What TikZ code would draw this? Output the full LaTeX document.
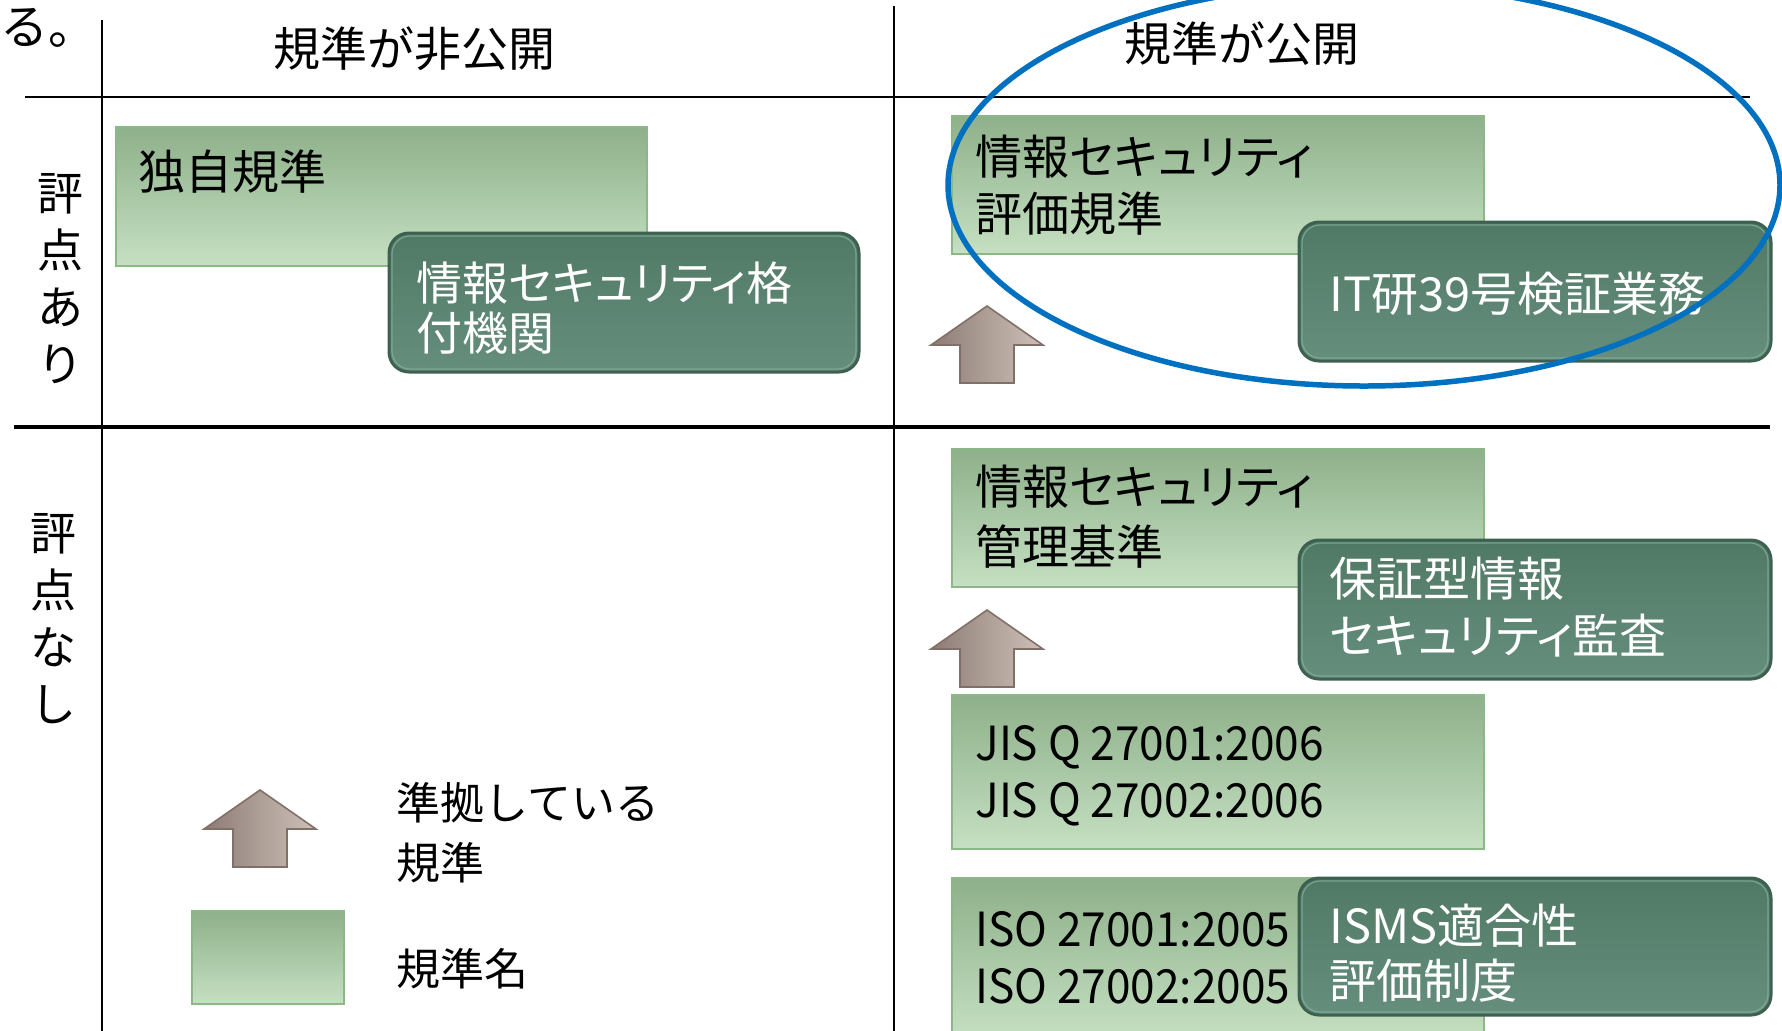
\documentclass[tikz,border=0pt]{standalone}
\usepackage{fontspec}
\setmainfont{Noto Sans CJK JP}
\newfontfamily\jpbox[RawFeature=+palt]{Noto Sans CJK JP}
\newfontfamily\jplat[FakeStretch=0.94]{Noto Sans CJK JP}
\usetikzlibrary{fit}
\definecolor{lgTop}{RGB}{142,176,138}
\definecolor{lgBot}{RGB}{197,224,194}
\definecolor{lgLine}{RGB}{140,184,136}
\definecolor{dgTop}{RGB}{80,121,101}
\definecolor{dgBot}{RGB}{102,142,125}
\definecolor{dgLine}{RGB}{62,96,80}
\definecolor{dgHi}{RGB}{128,176,152}
\definecolor{arL}{RGB}{140,124,117}
\definecolor{arR}{RGB}{206,192,184}
\definecolor{arD}{RGB}{128,112,104}
\definecolor{ovalBlue}{RGB}{0,112,192}
\tikzset{
  lbox/.style={rectangle, inner sep=0pt, top color=lgTop, bottom color=lgBot, draw=lgLine, line width=0.6pt},
  dbox/.style={rectangle, inner sep=0pt, rounded corners=10pt, top color=dgTop, bottom color=dgBot, draw=dgLine, line width=1.5pt},
  dhi/.style={rectangle, inner sep=0pt, rounded corners=9pt, draw=dgHi, line width=0.6pt, opacity=0.8},
  btext/.style={anchor=west, inner sep=0pt, align=left, font=\jpbox\fontsize{23.5pt}{28.5pt}\selectfont, text=black},
  wtext/.style={btext, text=white},
  hdr/.style={inner sep=0pt, font=\fontsize{23.5pt}{28pt}\selectfont},
  side/.style={inner sep=0pt, align=center, font=\fontsize{23pt}{28.5pt}\selectfont},
  grid/.style={line width=1pt, black},
  uparr/.pic={\shade[left color=arL, right color=arR, draw=arD, line width=0.8pt]
     (-56,39) -- (0,0) -- (56,39) -- (27,39) -- (27,77) -- (-27,77) -- (-27,39) -- cycle;}
}
\begin{document}
\begin{tikzpicture}[x=0.5pt,y=-0.5pt]
\useasboundingbox (0,0) rectangle (1782,1030);
% grid lines
\draw[grid] (102,20) -- (102,1035);
\draw[grid] (894,6) -- (894,1035);
\draw[grid, line width=1.25pt] (25,97) -- (1750,97);
\draw[grid, line width=1.75pt] (14,427) -- (1770,427);
% headers
\node[anchor=base west, inner sep=0pt, font=\fontsize{24pt}{28pt}\selectfont] (ru) at (0,44) {る。};
\node[hdr] (h1) at (414,49) {規準が非公開};
\node[hdr] (h2) at (1242,44) {規準が公開};
\node[side] (s1) at (60,279) {評\\点\\あ\\り};
\node[side] (s2) at (53,619) {評\\点\\な\\し};
% light boxes
\node[lbox, fit={(116,127) (647,266)}] (b1) {};
\node[lbox, fit={(952,116) (1484,254)}] (b2) {};
\node[lbox, fit={(952,449) (1484,587)}] (b3) {};
\node[lbox, fit={(952,695) (1484,849)}] (b4) {};
\node[lbox, fit={(952,878) (1484,1040)}] (b5) {};
\node[lbox, fit={(192,911) (344,1004)}] (leg) {};
% dark boxes
\node[dbox, fit={(389,233) (859,372)}] (d1) {};
\node[dhi, fit={(392,236) (856,369)}] (d1h) {};
\node[dbox, fit={(1299,222) (1771,361)}] (d2) {};
\node[dhi, fit={(1302,225) (1768,358)}] (d2h) {};
\node[dbox, fit={(1299,540) (1771,679)}] (d3) {};
\node[dhi, fit={(1302,543) (1768,676)}] (d3h) {};
\node[dbox, fit={(1299,878) (1771,1015)}] (d4) {};
\node[dhi, fit={(1302,881) (1768,1012)}] (d4h) {};
% texts
\node[btext] (t1) at (138,172) {独自規準};
\node[wtext, font=\jpbox\fontsize{23pt}{25pt}\selectfont] (t2) at (416,308) {情報セキュリティ格\\付機関};
\node[btext] (t3) at (975,185) {情報セキュリティ\\評価規準};
\node[wtext] (t4) at (1329,294) {IT研39号検証業務};
\node[btext, font=\jpbox\fontsize{23.5pt}{30pt}\selectfont] (t5) at (975,517) {情報セキュリティ\\管理基準};
\node[wtext] (t6) at (1329,607) {保証型情報\\セキュリティ監査};
\node[btext, font=\jplat\fontsize{23.5pt}{28.5pt}\selectfont] (t7) at (975,776) {JIS Q 27001:2006\\JIS Q 27002:2006};
\node[btext, font=\jplat\fontsize{23.5pt}{28.5pt}\selectfont] (t8) at (975,958) {ISO 27001:2005\\ISO 27002:2005};
\node[wtext, font=\jpbox\fontsize{23.5pt}{27.5pt}\selectfont] (t9) at (1329,953) {ISMS適合性\\評価制度};
\node[btext, font=\fontsize{22pt}{30pt}\selectfont] (t10) at (396,833) {準拠している\\規準};
\node[btext, font=\fontsize{22pt}{28pt}\selectfont] (t11) at (396,969) {規準名};
% arrows
\pic at (987,306) {uparr};
\pic at (987,610) {uparr};
\pic at (260,790) {uparr};
% oval
\draw[line width=2.75pt, draw=ovalBlue] (1364,185) ellipse [x radius=416, y radius=201];
\end{tikzpicture}
\end{document}
